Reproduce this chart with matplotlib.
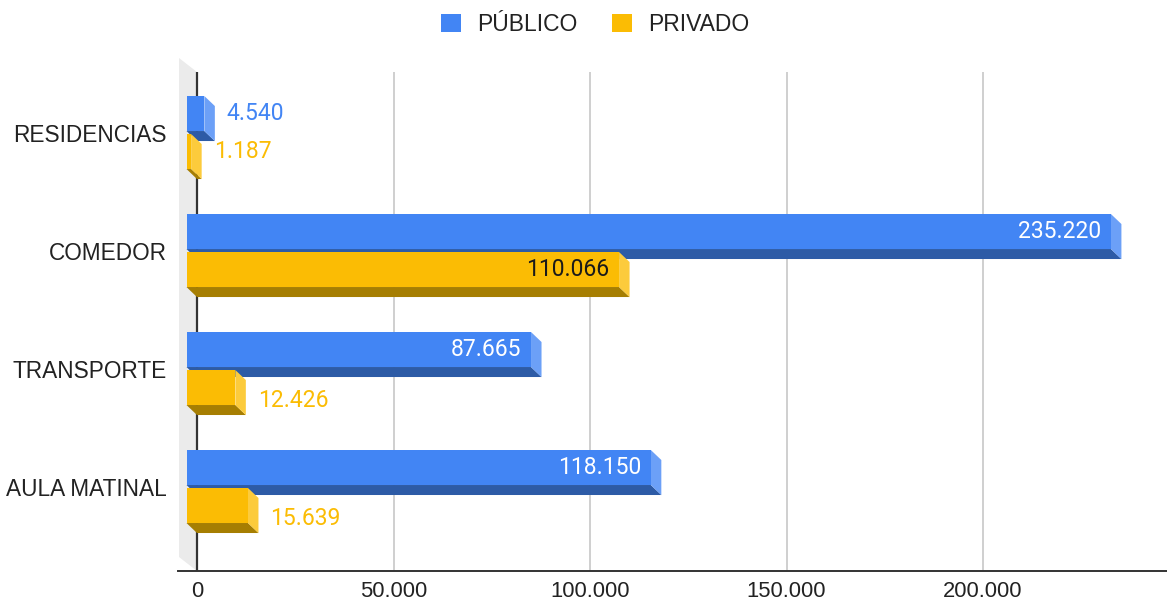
import matplotlib
matplotlib.use('Agg')
import matplotlib.pyplot as plt
from matplotlib.patches import Polygon, Patch, Rectangle

categories = ['RESIDENCIAS', 'COMEDOR', 'TRANSPORTE', 'AULA MATINAL']
publico = [4540, 235220, 87665, 118150]
privado = [1187, 110066, 12426, 15639]
series_names = ['PÚBLICO', 'PRIVADO']
value_labels_pub = ['4.540', '235.220', '87.665', '118.150']
value_labels_priv = ['1.187', '110.066', '12.426', '15.639']
xticks = [0, 50000, 100000, 150000, 200000]
xtick_labels = ['0', '50.000', '100.000', '150.000', '200.000']

# colours: front, side, bottom
BLUE = ('#4285F4', '#6CA0F7', '#2D5BA6')
YELLOW = ('#FBBC04', '#FCCB3C', '#A67E02')
TEXT = '#222222'

W, H = 1167, 601
fig = plt.figure(figsize=(W / 100, H / 100), dpi=100)
ax = fig.add_axes([178 / W, (H - 571) / H, (W - 178) / W, (571 - 72) / H])
px_per_unit = 786 / 200000
ax.set_xlim(-19 / px_per_unit, (W - 197) / px_per_unit)
ax.set_ylim(3.716, -0.513)

inv = ax.transData.inverted()


def px(dx, dy):
    p0 = inv.transform((0, 0))
    p1 = inv.transform((dx, -dy))
    return p1[0] - p0[0], p1[1] - p0[1]


ddx, _ = px(10.5, 0)
_, ddy = px(0, 10)

# gridlines
ax.set_xticks(xticks)
ax.set_xticklabels(xtick_labels, fontsize=15.8, color=TEXT, family='Liberation Sans')
ax.grid(axis='x', color='#CCCCCC', linewidth=1.3, zorder=0)
ax.set_axisbelow(True)
ax.tick_params(axis='x', length=0, pad=7)
ax.set_yticks(range(len(categories)))
ax.set_yticklabels(categories, fontsize=16.3, color=TEXT, family='Liberation Sans')
ax.tick_params(axis='y', length=0, pad=8)
for s in ['top', 'right', 'left']:
    ax.spines[s].set_visible(False)
ax.spines['bottom'].set_color('#333333')
ax.spines['bottom'].set_linewidth(1.4)

# back wall
wx, _ = px(18, 0)
_, wy = px(0, 14)
y_top, y_bot = -0.513, 3.716
ax.add_patch(Polygon([(0, y_top), (0, y_bot), (-wx, y_bot - wy), (-wx, y_top - wy)],
                     closed=True, facecolor='#EBEBEB', edgecolor='none', clip_on=False, zorder=1))
ax.axvline(0, color='#333333', linewidth=1.6, zorder=2)

_, hpx = px(0, 35)
_, gap = px(0, 1.5)
pad_in, _ = px(10, 0)
pad_out, _ = px(12, 0)
_, low = px(0, 13)


def bar3d(v, yt, yb, cols, label, inside_color, shift=0.0):
    front, side, bottom = cols
    ax.add_patch(Polygon([(-ddx, yb), (v - ddx, yb), (v, yb + ddy), (0, yb + ddy)],
                         closed=True, facecolor=bottom, edgecolor='none', zorder=3))
    ax.add_patch(Polygon([(v - ddx, yt), (v, yt + ddy), (v, yb + ddy), (v - ddx, yb)],
                         closed=True, facecolor=side, edgecolor='none', zorder=3))
    ax.add_patch(Rectangle((-ddx, yt), v, yb - yt, facecolor=front, edgecolor='none', zorder=3))
    yc = (yt + yb) / 2
    if v * px_per_unit > 100:
        ax.text(v - ddx - pad_in, yc, label, ha='right', va='center', fontsize=16.5,
                color=inside_color, family='Roboto', zorder=5)
    else:
        ax.text(v + pad_out, yc + shift, label, ha='left', va='center', fontsize=16.5,
                color=front, family='Roboto', zorder=5)


for i in range(len(categories)):
    bar3d(publico[i], i - hpx - gap, i - gap, BLUE, value_labels_pub[i], 'white')
    bar3d(privado[i], i + gap, i + gap + hpx, YELLOW, value_labels_priv[i], '#1A1A1A',
          shift=low if i >= 2 else 0.0)

handles = [Patch(facecolor=BLUE[0], label=series_names[0]),
           Patch(facecolor=YELLOW[0], label=series_names[1])]
fig.legend(handles=handles, loc='upper center', bbox_to_anchor=(0.5 + 12 / W, 1 - 6 / H), ncol=2,
           frameon=False, prop={'family': 'Liberation Sans', 'size': 16.5},
           handlelength=0.88, handleheight=0.88, columnspacing=1.5, handletextpad=0.7,
           borderaxespad=0, borderpad=0.3, labelcolor=TEXT)

fig.savefig('out.png', dpi=100)
